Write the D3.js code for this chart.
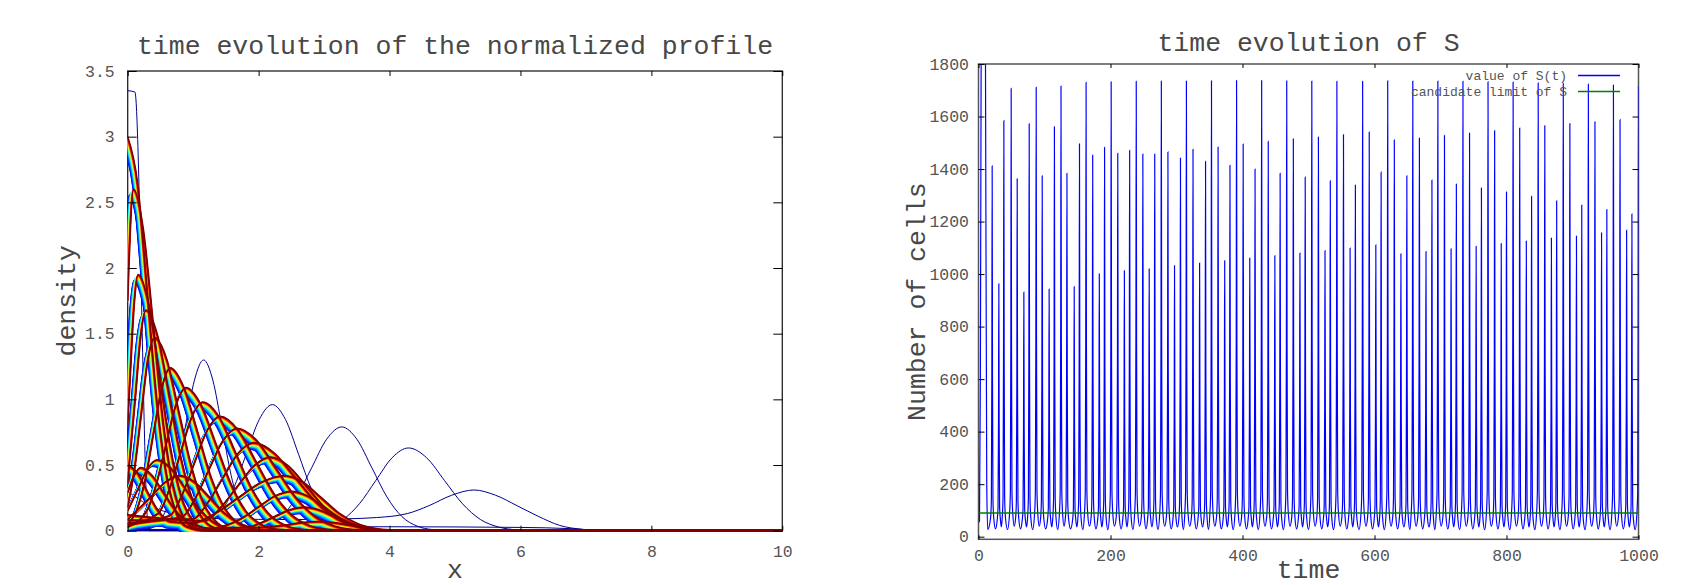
<!DOCTYPE html>
<html><head><meta charset="utf-8">
<script src="https://cdn.jsdelivr.net/npm/d3@7"></script>
<style>
html,body{margin:0;padding:0;background:#fff;}
svg{display:block;}
text{font-family:"Liberation Mono","DejaVu Sans Mono",monospace;}
</style></head><body>
<svg id="chart" width="1697" height="585"></svg>
<script>
// ================= LEFT PANEL DATA =================
const leftTitle = "time evolution of the normalized profile";
const leftXLabel = "x", leftYLabel = "density";
const leftXTicks = [0, 2, 4, 6, 8, 10];
const leftXTickLabels = ["0", "2", "4", "6", "8", "10"];
const leftYTicks = [0, 0.5, 1, 1.5, 2, 2.5, 3, 3.5];
const leftYTickLabels = ["0", "0.5", "1", "1.5", "2", "2.5", "3", "3.5"];

// early (transient) profiles, drawn in the first palette colour
const earlyProfiles = [
  [[0,3.35],[0.11,3.34],[0.32,0],[10,0]],
  [[0,0.02],[0.3,0.015],[0.4,0.07],[0.49,0.13],[0.58,0.07],[0.7,0.01],[1,0],[10,0]],
  [[0,0],[0.32,0.014],[0.46,0.057],[0.6,0.176],[0.74,0.422],[0.88,0.788],[1.02,1.147],[1.16,1.30],[1.30,1.147],[1.44,0.788],[1.58,0.422],[1.72,0.176],[1.86,0.057],[2.0,0.014],[2.4,0],[10,0]],
  [[0,0.005],[1.01,0.011],[1.21,0.042],[1.41,0.13],[1.61,0.312],[1.81,0.582],[2.01,0.847],[2.21,0.96],[2.41,0.847],[2.61,0.582],[2.81,0.312],[3.01,0.13],[3.21,0.042],[3.41,0.011],[3.8,0],[10,0]],
  [[0,0],[1.89,0.009],[2.12,0.035],[2.35,0.107],[2.58,0.257],[2.81,0.479],[3.04,0.697],[3.27,0.79],[3.5,0.697],[3.73,0.479],[3.96,0.257],[4.19,0.107],[4.42,0.035],[4.65,0.009],[5,0],[10,0]],
  [[0,0.01],[2.79,0.007],[3.04,0.028],[3.29,0.085],[3.54,0.205],[3.79,0.382],[4.04,0.556],[4.29,0.63],[4.565,0.556],[4.84,0.382],[5.115,0.205],[5.39,0.085],[5.665,0.028],[5.94,0.007],[6.3,0],[10,0]],
  [[0,0.3],[0.3,0.2],[0.8,0.12],[1.5,0.09],[2.5,0.085],[3.3,0.09],[3.8,0.1],[4.27,0.13],[4.6,0.19],[4.95,0.27],[5.29,0.31],[5.62,0.27],[5.95,0.19],[6.27,0.11],[6.6,0.04],[6.95,0.01],[7.3,0],[10,0]],
  [[0,0.04],[1,0.03],[4,0.03],[6,0.025],[6.8,0.015],[7.3,0],[10,0]]
];

// profiles over one period of the oscillation (repeated over many periods)
const cycleProfiles = [
  [[0,3.0],[0.15,2.65],[0.3,1.82],[0.45,0.97],[0.6,0.41],[0.75,0.13],[0.9,0.033],[1.2,0],[10,0]],
  [[0,1.75],[0.09,2.6],[0.24,2.29],[0.39,1.58],[0.54,0.84],[0.69,0.35],[0.84,0.114],[0.99,0.029],[1.3,0],[10,0]],
  [[0,0.8],[0.04,1.18],[0.1,1.72],[0.16,1.95],[0.325,1.72],[0.49,1.18],[0.655,0.63],[0.82,0.26],[0.985,0.086],[1.15,0.022],[1.5,0],[10,0]],
  [[0,0.36],[0.12,1.02],[0.2,1.48],[0.28,1.68],[0.46,1.48],[0.64,1.02],[0.82,0.545],[1.0,0.227],[1.18,0.074],[1.36,0.019],[1.8,0],[10,0]],
  [[0,0.18],[0.11,0.48],[0.21,0.89],[0.31,1.30],[0.41,1.47],[0.6,1.30],[0.79,0.89],[0.98,0.48],[1.17,0.2],[1.36,0.065],[1.55,0.016],[2,0],[10,0]],
  [[0,0.05],[0.15,0.17],[0.275,0.40],[0.4,0.75],[0.525,1.09],[0.65,1.24],[0.86,1.09],[1.07,0.75],[1.28,0.40],[1.49,0.168],[1.7,0.054],[1.91,0.014],[2.4,0],[10,0]],
  [[0,0.03],[0.29,0.15],[0.44,0.354],[0.59,0.66],[0.74,0.96],[0.89,1.09],[1.12,0.96],[1.35,0.66],[1.58,0.354],[1.81,0.147],[2.04,0.048],[2.27,0.012],[2.8,0],[10,0]],
  [[0,0.04],[0.47,0.133],[0.64,0.318],[0.81,0.594],[0.98,0.865],[1.15,0.98],[1.4,0.865],[1.65,0.594],[1.9,0.318],[2.15,0.133],[2.4,0.043],[2.65,0.011],[3.2,0],[10,0]],
  [[0,0.05],[0.65,0.118],[0.84,0.282],[1.03,0.528],[1.22,0.768],[1.41,0.87],[1.685,0.768],[1.96,0.528],[2.235,0.282],[2.51,0.118],[2.785,0.038],[3.06,0.01],[3.6,0],[10,0]],
  [[0,0.06],[0.83,0.106],[1.04,0.253],[1.25,0.473],[1.46,0.688],[1.67,0.78],[1.97,0.688],[2.27,0.473],[2.57,0.253],[2.87,0.106],[3.17,0.034],[3.47,0.009],[4,0],[10,0]],
  [[0,0.08],[1.0,0.091],[1.23,0.218],[1.46,0.406],[1.69,0.591],[1.92,0.67],[2.24,0.591],[2.56,0.406],[2.88,0.218],[3.2,0.091],[3.52,0.029],[3.84,0.007],[4.3,0],[10,0]],
  [[0,0.12],[1.18,0.076],[1.43,0.182],[1.68,0.34],[1.93,0.494],[2.18,0.56],[2.455,0.494],[2.73,0.34],[3.005,0.182],[3.28,0.076],[3.555,0.025],[3.83,0.006],[4.2,0],[10,0]],
  [[0,0.5],[0.15,0.44],[0.3,0.30],[0.45,0.165],[0.65,0.07],[1.0,0.06],[1.35,0.136],[1.7,0.255],[2.05,0.371],[2.4,0.42],[2.675,0.371],[2.95,0.255],[3.225,0.136],[3.5,0.057],[3.775,0.018],[4.05,0.005],[4.4,0],[10,0]],
  [[0,0.29],[0.1,0.42],[0.2,0.48],[0.375,0.42],[0.55,0.29],[0.725,0.16],[0.9,0.07],[1.1,0.03],[1.25,0.019],[1.5,0.041],[1.75,0.097],[2.0,0.182],[2.25,0.265],[2.5,0.3],[2.75,0.265],[3.0,0.182],[3.25,0.097],[3.5,0.041],[3.75,0.013],[4.0,0.003],[4.4,0],[10,0]],
  [[0,0.15],[0.17,0.33],[0.31,0.476],[0.45,0.54],[0.66,0.476],[0.87,0.33],[1.08,0.175],[1.29,0.073],[1.5,0.026],[1.8,0.024],[2.025,0.058],[2.25,0.109],[2.475,0.159],[2.7,0.18],[2.925,0.159],[3.15,0.109],[3.375,0.058],[3.6,0.024],[3.825,0.008],[4.05,0.002],[4.4,0],[10,0]],
  [[0,0.087],[0.35,0.255],[0.575,0.37],[0.8,0.42],[1.025,0.37],[1.25,0.255],[1.475,0.136],[1.7,0.06],[1.925,0.025],[2.15,0.028],[2.4,0.042],[2.65,0.062],[2.9,0.07],[3.15,0.062],[3.4,0.042],[3.65,0.019],[3.9,0.006],[4.3,0],[10,0]]
];
const cycleRepeats = 24;
const jetStops = [0, 0.125, 0.375, 0.625, 0.875, 1];
const jetColors = ["#00008f", "#0000ff", "#00ffff", "#ffff00", "#ff0000", "#800000"];

// ================= RIGHT PANEL DATA =================
const rightTitle = "time evolution of S";
const rightXLabel = "time", rightYLabel = "Number of cells";
const rightXTicks = [0, 200, 400, 600, 800, 1000];
const rightYTicks = [0, 200, 400, 600, 800, 1000, 1200, 1400, 1600, 1800];
const legendLabels = ["value of S(t)", "candidate limit of S"];
const limitS = 90;
const initialTimes  = [0, 1.5, 2.8, 4, 7, 10.6, 12.5, 14];
const initialValues = [55, 60, 600, 1800, 3600, 1800, 200, 27];
const spikeTimes = [20.7,30.8,38.4,49.5, 58.6,68.7,76.8,87.4, 96.5,107,115,125, 134,145,153,163,
  173,183,191,201, 211,221,229,239, 249,258.6,267,277, 287,297,306,315, 325,335,344,353,
  363,373,381,391, 401,411,419,429, 439,449,457,467, 477,487,495,505, 515,525,533,543,
  553,563,571,582, 592,602,610,620, 630,640,649,658, 668,678,687,696, 706,716,724,734,
  744,754,762,772, 782,792,800,810, 820,830,838,848, 858,868,876,886, 896,906,914,924,
  934,944,952,962, 972,982,990,1000];
const spikeValues = [1412,963,1584,1707, 1363,931,1572,1711, 1374,943,1561,1716, 1384,952,1496,1730,
  1453,1001,1483,1732, 1460,1013,1471,1734, 1457,1020,1457,1735, 1465,1032,1442,1735, 1475,1042,1429,1736,
  1484,1051,1414,1737, 1495,1061,1400,1737, 1505,1070,1384,1736, 1515,1080,1369,1735, 1522,1089,1355,1734,
  1531,1099,1339,1734, 1541,1111,1388,1736, 1511,1077,1374,1735, 1518,1086,1358,1735, 1528,1096,1343,1734,
  1537,1106,1328,1732, 1546,1116,1313,1731, 1556,1126,1296,1728, 1565,1137,1279,1726, 1573,1145,1263,1723,
  1580,1157,1246,1720, 1588,1167,1229,1715];
const troughByPhase = [30, 37, 27, 40];          // minimum after each kind of spike
const pulseOffsets   = [-2.4, -1.2, -0.5, 0, 0.5, 1.2, 2.4];
const pulseFractions = [0.03, 0.08, 0.42, 1, 0.42, 0.08, 0.03];

// ================= DRAWING =================
const svg = d3.select("#chart");
const defs = svg.append("defs");
const bigFont = 26.5, tickFont = 16.5;
const textColor = "#484848";

// ---------- left panel ----------
const L = {x0: 127.7, x1: 782.3, y0: 71, y1: 530.7};
const lx = d3.scaleLinear().domain([0, 10]).range([L.x0, L.x1]);
const ly = d3.scaleLinear().domain([0, 3.5]).range([L.y1, L.y0]);
defs.append("clipPath").attr("id", "clipL").append("rect")
  .attr("x", L.x0).attr("y", L.y0).attr("width", L.x1 - L.x0).attr("height", L.y1 - L.y0 + 1.2);

svg.append("rect").attr("x", L.x0).attr("y", L.y0).attr("width", L.x1 - L.x0).attr("height", L.y1 - L.y0)
  .attr("fill", "none").attr("stroke", "#222").attr("stroke-width", 1.3);

const jet = d3.scaleLinear().domain(jetStops).range(jetColors).interpolate(d3.interpolateRgb);
const lineL = d3.line().x(d => lx(d[0])).y(d => ly(d[1])).curve(d3.curveMonotoneX);
const gL = svg.append("g").attr("clip-path", "url(#clipL)");
earlyProfiles.forEach(p => gL.append("path").attr("d", lineL(p)).attr("fill", "none")
  .attr("stroke", jet(0)).attr("stroke-width", 1));
for (let j = 0; j < cycleRepeats; j++) {
  const t = j / (cycleRepeats - 1);
  const dy = 6.5 * (1 - t);
  const dx = -4.5 * (1 - t);
  const col = jet(0.13 + 0.87 * Math.pow(t, 1.6));
  cycleProfiles.forEach(p => gL.append("path").attr("d", lineL(p)).attr("fill", "none")
    .attr("transform", `translate(${dx},${dy})`).attr("stroke", col)
    .attr("stroke-width", j === cycleRepeats - 1 ? 1.7 : 1.2));
}

function styleAxis(g, color) {
  g.select(".domain").remove();
  g.selectAll(".tick line").attr("stroke", "#000").attr("stroke-width", 1);
  g.selectAll(".tick text").attr("fill", color).attr("font-size", tickFont)
    .attr("font-family", '"Liberation Mono", monospace');
}
const lxFmt = (d, i) => leftXTickLabels[i];
const lyFmt = (d, i) => leftYTickLabels[i];
svg.append("g").attr("transform", `translate(0,${L.y1})`)
  .call(d3.axisBottom(lx).tickValues(leftXTicks).tickFormat(lxFmt).tickSizeInner(-5).tickSizeOuter(0).tickPadding(14.5))
  .call(g => styleAxis(g, "#555"));
svg.append("g").attr("transform", `translate(0,${L.y0})`)
  .call(d3.axisTop(lx).tickValues(leftXTicks).tickFormat("").tickSizeInner(-5).tickSizeOuter(0))
  .call(g => styleAxis(g, "#555"));
svg.append("g").attr("transform", `translate(${L.x0},0)`)
  .call(d3.axisLeft(ly).tickValues(leftYTicks).tickFormat(lyFmt).tickSizeInner(-9).tickSizeOuter(0).tickPadding(13))
  .call(g => styleAxis(g, "#555"));
svg.append("g").attr("transform", `translate(${L.x1},0)`)
  .call(d3.axisRight(ly).tickValues(leftYTicks).tickFormat("").tickSizeInner(-9).tickSizeOuter(0))
  .call(g => styleAxis(g, "#555"));

svg.append("text").attr("x", (L.x0 + L.x1) / 2).attr("y", 54).attr("text-anchor", "middle")
  .attr("font-size", bigFont).attr("fill", textColor).text(leftTitle);
svg.append("text").attr("x", (L.x0 + L.x1) / 2).attr("y", 578).attr("text-anchor", "middle")
  .attr("font-size", bigFont).attr("fill", textColor).text(leftXLabel);
svg.append("text").attr("transform", `translate(75,${(L.y0 + L.y1) / 2}) rotate(-90)`).attr("text-anchor", "middle")
  .attr("font-size", bigFont).attr("fill", textColor).text(leftYLabel);

// ---------- right panel ----------
const R = {x0: 978.5, x1: 1638.5, y0: 64, y1: 539.3};
const rx = d3.scaleLinear().domain([0, 1000]).range([R.x0, R.x1]);
const ry = d3.scaleLinear().domain([-10, 1800]).range([R.y1, R.y0]);
defs.append("clipPath").attr("id", "clipR").append("rect")
  .attr("x", R.x0).attr("y", R.y0).attr("width", R.x1 - R.x0).attr("height", R.y1 - R.y0);

svg.append("rect").attr("x", R.x0).attr("y", R.y0).attr("width", R.x1 - R.x0).attr("height", R.y1 - R.y0)
  .attr("fill", "none").attr("stroke", "#555").attr("stroke-width", 1.5);

// assemble S(t): initial burst, then spikes separated by troughs
const sPoints = initialTimes.map((t, i) => [t, initialValues[i]]);
spikeTimes.forEach((tp, i) => {
  if (i > 0) {
    const prev = spikeTimes[i - 1];
    sPoints.push([(prev + tp) / 2, troughByPhase[(i - 1) % 4]]);
  }
  pulseOffsets.forEach((o, k) => {
    const base = troughByPhase[i % 4];
    sPoints.push([tp + o, base + (spikeValues[i] - base) * pulseFractions[k]]);
  });
});
const lineR = d3.line().x(d => rx(d[0])).y(d => ry(d[1])).curve(d3.curveMonotoneX);
const gR = svg.append("g").attr("clip-path", "url(#clipR)");
gR.append("path").attr("d", lineR(sPoints)).attr("fill", "none").attr("stroke", "#0000ff").attr("stroke-width", 1.2);
gR.append("path").attr("d", lineR([[0, limitS], [1000, limitS]])).attr("fill", "none")
  .attr("stroke", "#008000").attr("stroke-width", 1.5);

svg.append("g").attr("transform", `translate(0,${R.y1})`)
  .call(d3.axisBottom(rx).tickValues(rightXTicks).tickFormat(d3.format("d")).tickSizeInner(-4).tickSizeOuter(0).tickPadding(10))
  .call(g => styleAxis(g, "#555"));
svg.append("g").attr("transform", `translate(0,${R.y0})`)
  .call(d3.axisTop(rx).tickValues(rightXTicks).tickFormat("").tickSizeInner(-4).tickSizeOuter(0))
  .call(g => styleAxis(g, "#555"));
svg.append("g").attr("transform", `translate(${R.x0},0)`)
  .call(d3.axisLeft(ry).tickValues(rightYTicks).tickFormat(d3.format("d")).tickSizeInner(-6).tickSizeOuter(0).tickPadding(9.5))
  .call(g => styleAxis(g, "#555"));
svg.append("g").attr("transform", `translate(${R.x1},0)`)
  .call(d3.axisRight(ry).tickValues(rightYTicks).tickFormat("").tickSizeInner(-6).tickSizeOuter(0))
  .call(g => styleAxis(g, "#555"));

svg.append("text").attr("x", (R.x0 + R.x1) / 2).attr("y", 51).attr("text-anchor", "middle")
  .attr("font-size", bigFont).attr("fill", textColor).text(rightTitle);
svg.append("text").attr("x", (R.x0 + R.x1) / 2).attr("y", 578).attr("text-anchor", "middle")
  .attr("font-size", bigFont).attr("fill", textColor).text(rightXLabel);
svg.append("text").attr("transform", `translate(925,${(R.y0 + R.y1) / 2}) rotate(-90)`).attr("text-anchor", "middle")
  .attr("font-size", bigFont).attr("fill", textColor).text(rightYLabel);

// legend
const legendColors = ["#0000ff", "#008000"];
const legendY = [75.5, 91.5];
legendLabels.forEach((lab, i) => {
  svg.append("text").attr("x", 1567).attr("y", legendY[i] + 4.5).attr("text-anchor", "end")
    .attr("font-size", 13).attr("fill", "#555").text(lab);
  svg.append("line").attr("x1", 1578).attr("x2", 1620).attr("y1", legendY[i]).attr("y2", legendY[i])
    .attr("stroke", legendColors[i]).attr("stroke-width", 1.5);
});
</script>
</body></html>
